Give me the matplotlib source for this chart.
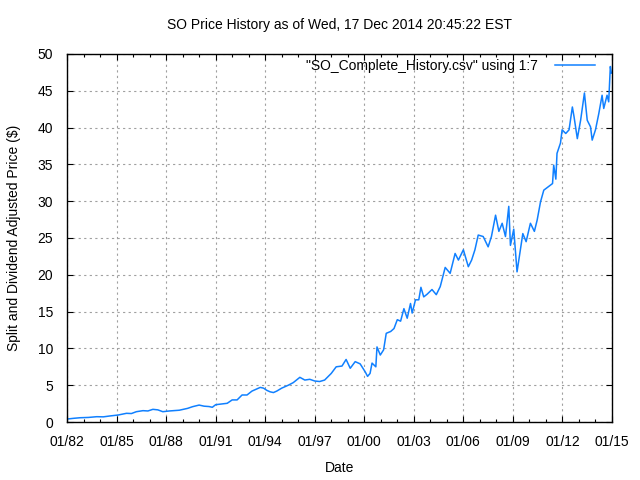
import matplotlib
matplotlib.use("Agg")
import matplotlib.pyplot as plt
from matplotlib.ticker import MultipleLocator

plt.rcParams['font.family'] = ['Liberation Sans', 'DejaVu Sans']

years = [1982.0, 1982.4, 1982.8, 1983.3, 1983.8, 1984.2, 1984.6, 1985.1, 1985.6, 1985.9,
         1986.2, 1986.6, 1986.9, 1987.2, 1987.5, 1987.8, 1988.2, 1988.8, 1989.3, 1989.6,
         1990.0, 1990.3, 1990.6, 1990.8, 1991.0, 1991.4, 1991.7, 1992.0, 1992.3, 1992.6,
         1992.9, 1993.2, 1993.45, 1993.7, 1993.9, 1994.1, 1994.3, 1994.5, 1994.7, 1995.0,
         1995.4, 1995.7, 1996.1, 1996.4, 1996.7, 1997.0, 1997.3, 1997.6, 1998.0, 1998.3,
         1998.65, 1998.9, 1999.15, 1999.45, 1999.75, 2000.06, 2000.2, 2000.35, 2000.47, 2000.7,
         2000.77, 2000.97, 2001.17, 2001.33, 2001.6, 2001.8, 2002.0, 2002.2, 2002.4, 2002.6,
         2002.8, 2002.9, 2003.1, 2003.3, 2003.43, 2003.6, 2003.8, 2004.1, 2004.36, 2004.6,
         2004.9, 2005.2, 2005.5, 2005.7, 2006.0, 2006.3, 2006.5, 2006.7, 2006.9, 2007.2,
         2007.5, 2007.7, 2007.95, 2008.15, 2008.35, 2008.55, 2008.75, 2008.85, 2009.05, 2009.25,
         2009.45, 2009.6, 2009.8, 2010.06, 2010.3, 2010.47, 2010.67, 2010.87, 2011.17, 2011.4,
         2011.47, 2011.6, 2011.67, 2011.88, 2011.98, 2012.2, 2012.4, 2012.6, 2012.7, 2012.9,
         2013.1, 2013.33, 2013.5, 2013.7, 2013.8, 2014.0, 2014.2, 2014.4, 2014.5, 2014.7,
         2014.8, 2014.9, 2014.96]

prices = [0.40, 0.50, 0.58, 0.62, 0.72, 0.70, 0.82, 0.95, 1.18, 1.15,
          1.40, 1.54, 1.50, 1.72, 1.65, 1.40, 1.50, 1.60, 1.85, 2.08,
          2.30, 2.15, 2.10, 2.00, 2.35, 2.45, 2.54, 3.00, 3.00, 3.67,
          3.67, 4.20, 4.45, 4.70, 4.60, 4.30, 4.10, 4.00, 4.20, 4.60,
          5.00, 5.35, 6.07, 5.70, 5.80, 5.57, 5.50, 5.70, 6.60, 7.50,
          7.60, 8.50, 7.30, 8.20, 7.90, 6.80, 6.20, 6.60, 8.00, 7.50,
          10.2, 9.10, 9.80, 12.05, 12.3, 12.7, 13.9, 13.7, 15.4, 14.1,
          16.1, 14.8, 16.6, 16.6, 18.3, 17.0, 17.35, 18.0, 17.3, 18.4,
          21.0, 20.2, 22.9, 22.0, 23.4, 21.1, 22.0, 23.4, 25.4, 25.2,
          23.8, 25.2, 28.1, 25.9, 27.0, 25.2, 29.3, 24.0, 26.2, 20.4,
          23.4, 25.6, 24.5, 27.0, 25.9, 27.45, 29.9, 31.5, 32.0, 32.4,
          34.9, 33.0, 36.5, 37.9, 39.7, 39.2, 39.7, 42.8, 41.5, 38.5,
          41.0, 44.7, 41.0, 40.1, 38.3, 39.7, 41.9, 44.4, 42.6, 44.4,
          43.5, 48.3, 47.4]

xtick_pos = [1982, 1985, 1988, 1991, 1994, 1997, 2000, 2003, 2006, 2009, 2012, 2015]
xtick_labels = ["01/82", "01/85", "01/88", "01/91", "01/94", "01/97",
                "01/00", "01/03", "01/06", "01/09", "01/12", "01/15"]

W, H = 640, 480
fig = plt.figure(figsize=(6.4, 4.8), dpi=100)
L, R, T, B = 67, 612, 54, 422
ax = fig.add_axes([L/W, 1-B/H, (R-L)/W, (B-T)/H])

ax.plot(years, prices, color='#1080ff', lw=1.1,
        label='"SO_Complete_History.csv" using 1:7')

ax.set_xlim(1982, 2015)
ax.set_ylim(0, 50)
ax.set_xticks(xtick_pos)
ax.set_xticklabels(xtick_labels)
ax.xaxis.set_minor_locator(MultipleLocator(1))
ax.yaxis.set_major_locator(MultipleLocator(5))

fs = 10
ax.tick_params(axis='x', which='major', pad=9)
ax.tick_params(axis='y', which='major', pad=10)
ax.tick_params(axis='both', which='major', direction='in', length=4, width=0.8,
               top=True, right=True, labelsize=fs, colors='black')
ax.tick_params(axis='x', which='minor', direction='in', length=2, width=0.8,
               top=True, bottom=True)
ax.tick_params(axis='y', which='minor', left=False, right=False)
for s in ax.spines.values():
    s.set_linewidth(1.0)

ax.grid(True, which='major', color='#a0a0a0', linestyle=(0, (2, 3)), linewidth=0.8)

ax.set_xlabel('Date', fontsize=fs, labelpad=9)
ax.set_ylabel('Split and Dividend Adjusted Price (\\$)', fontsize=fs, labelpad=12)
fig.text(339.5/W, 1-25/H, 'SO Price History as of Wed, 17 Dec 2014 20:45:22 EST',
         ha='center', va='center', fontsize=fs)

# legend anchored so the sample line ends near x=595, row centred near y=65
ax.legend(loc='upper right', frameon=False, fontsize=fs, markerfirst=False,
          handlelength=2.9, handletextpad=1.2, borderpad=0, borderaxespad=0,
          bbox_to_anchor=((595-L)/(R-L), 1-(59-T)/(B-T)))

fig.savefig('out.png', dpi=100)
